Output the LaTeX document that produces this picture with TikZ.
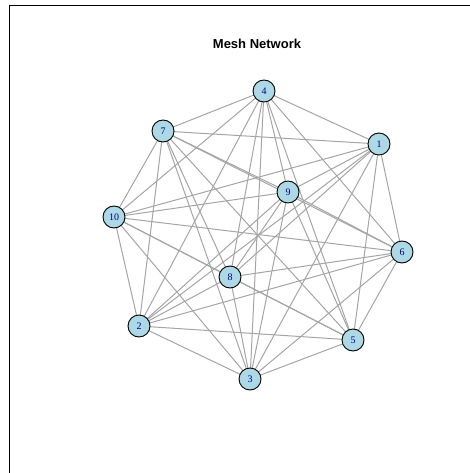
\documentclass[tikz,border=0pt]{standalone}
\usepackage{fontspec}
\setmainfont{Liberation Serif}
\newfontfamily\titlefont{Liberation Sans}
\usetikzlibrary{backgrounds}
\definecolor{nodefill}{RGB}{173,216,230}
\definecolor{labelblue}{RGB}{0,0,139}
\definecolor{edgegray}{RGB}{165,165,165}
\begin{document}
\begin{tikzpicture}[x=1pt,y=-1pt,
  vertex/.style={circle,draw=black,line width=0.9pt,fill=nodefill,minimum size=22pt,inner sep=0pt,text=labelblue,font=\fontsize{10}{10}\selectfont},
  link/.style={draw=edgegray,line width=1pt},
  frameline/.style={draw=black,line width=1pt}]
\useasboundingbox (0,0) rectangle (470,473);
\coordinate (fa) at (9,473);
\coordinate (fb) at (9,6);
\coordinate (fc) at (470,6);
\draw[frameline] (fa) -- (fb) -- (fc);
\node[font=\titlefont\bfseries\fontsize{13}{13}\selectfont] (title) at (257,44) {Mesh Network};
\node[vertex] (n1) at (379,144) {1};
\node[vertex] (n2) at (139,326) {2};
\node[vertex] (n3) at (250,379) {3};
\node[vertex] (n4) at (264,91) {4};
\node[vertex] (n5) at (353,340) {5};
\node[vertex] (n6) at (402,252) {6};
\node[vertex] (n7) at (163,131) {7};
\node[vertex] (n8) at (230,277) {8};
\node[vertex] (n9) at (288,192) {9};
\node[vertex] (n10) at (114,217) {10};
\begin{scope}[on background layer]
\foreach \i in {1,...,9} {
  \pgfmathtruncatemacro\s{\i+1}
  \foreach \j in {\s,...,10} {
    \draw[link] (n\i.center) -- (n\j.center);
  }
}
\end{scope}
\end{tikzpicture}
\end{document}
